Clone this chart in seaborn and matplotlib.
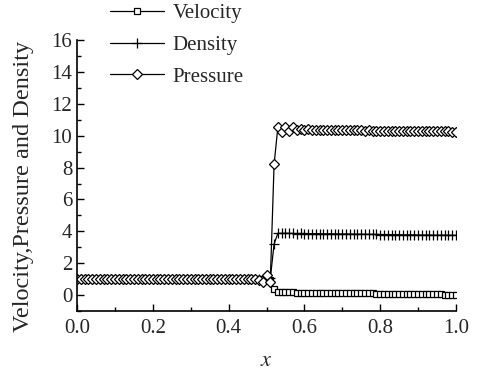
import numpy as np
import pandas as pd
import seaborn as sns
import matplotlib.pyplot as plt
from matplotlib.ticker import MultipleLocator

# grid points, step 0.01
x = [0.00, 0.01, 0.02, 0.03, 0.04, 0.05, 0.06, 0.07, 0.08, 0.09,
     0.10, 0.11, 0.12, 0.13, 0.14, 0.15, 0.16, 0.17, 0.18, 0.19,
     0.20, 0.21, 0.22, 0.23, 0.24, 0.25, 0.26, 0.27, 0.28, 0.29,
     0.30, 0.31, 0.32, 0.33, 0.34, 0.35, 0.36, 0.37, 0.38, 0.39,
     0.40, 0.41, 0.42, 0.43, 0.44, 0.45, 0.46, 0.47, 0.48, 0.49,
     0.50, 0.51, 0.52, 0.53, 0.54, 0.55, 0.56, 0.57, 0.58, 0.59,
     0.60, 0.61, 0.62, 0.63, 0.64, 0.65, 0.66, 0.67, 0.68, 0.69,
     0.70, 0.71, 0.72, 0.73, 0.74, 0.75, 0.76, 0.77, 0.78, 0.79,
     0.80, 0.81, 0.82, 0.83, 0.84, 0.85, 0.86, 0.87, 0.88, 0.89,
     0.90, 0.91, 0.92, 0.93, 0.94, 0.95, 0.96, 0.97, 0.98, 0.99,
     1.00]

velocity = [1.00, 1.00, 1.00, 1.00, 1.00, 1.00, 1.00, 1.00, 1.00, 1.00,
            1.00, 1.00, 1.00, 1.00, 1.00, 1.00, 1.00, 1.00, 1.00, 1.00,
            1.00, 1.00, 1.00, 1.00, 1.00, 1.00, 1.00, 1.00, 1.00, 1.00,
            1.00, 1.00, 1.00, 1.00, 1.00, 1.00, 1.00, 1.00, 1.00, 1.00,
            1.00, 1.00, 1.00, 1.00, 1.00, 1.00, 1.00, 1.00, 1.00, 1.00,
            1.00, 0.95, 0.35, 0.20, 0.18, 0.18, 0.17, 0.17, 0.16, 0.16,
            0.16, 0.15, 0.15, 0.15, 0.14, 0.14, 0.14, 0.13, 0.13, 0.13,
            0.12, 0.12, 0.12, 0.11, 0.11, 0.11, 0.10, 0.10, 0.10, 0.09,
            0.09, 0.09, 0.08, 0.08, 0.08, 0.07, 0.07, 0.07, 0.06, 0.06,
            0.06, 0.05, 0.05, 0.05, 0.04, 0.04, 0.04, 0.03, 0.03, 0.03,
            0.02]

density = [1.00, 1.00, 1.00, 1.00, 1.00, 1.00, 1.00, 1.00, 1.00, 1.00,
           1.00, 1.00, 1.00, 1.00, 1.00, 1.00, 1.00, 1.00, 1.00, 1.00,
           1.00, 1.00, 1.00, 1.00, 1.00, 1.00, 1.00, 1.00, 1.00, 1.00,
           1.00, 1.00, 1.00, 1.00, 1.00, 1.00, 1.00, 1.00, 1.00, 1.00,
           1.00, 1.00, 1.00, 1.00, 1.00, 1.00, 1.00, 1.00, 1.00, 1.00,
           1.00, 1.05, 3.20, 3.88, 3.87, 3.88, 3.87, 3.87, 3.86, 3.87,
           3.86, 3.86, 3.85, 3.86, 3.85, 3.85, 3.84, 3.85, 3.84, 3.84,
           3.83, 3.84, 3.83, 3.83, 3.82, 3.82, 3.82, 3.81, 3.81, 3.81,
           3.80, 3.80, 3.80, 3.79, 3.79, 3.79, 3.78, 3.78, 3.78, 3.78,
           3.77, 3.77, 3.77, 3.77, 3.76, 3.76, 3.76, 3.76, 3.76, 3.75,
           3.75]

pressure = [1.00, 1.00, 1.00, 1.00, 1.00, 1.00, 1.00, 1.00, 1.00, 1.00,
            1.00, 1.00, 1.00, 1.00, 1.00, 1.00, 1.00, 1.00, 1.00, 1.00,
            1.00, 1.00, 1.00, 1.00, 1.00, 1.00, 1.00, 1.00, 1.00, 1.00,
            1.00, 1.00, 1.00, 1.00, 1.00, 1.00, 1.00, 1.00, 1.00, 1.00,
            1.00, 1.00, 1.00, 1.00, 1.00, 1.00, 1.00, 0.98, 0.95, 0.80,
            1.25, 0.85, 8.20, 10.55, 10.25, 10.55, 10.30, 10.55, 10.35, 10.40,
            10.35, 10.40, 10.35, 10.38, 10.35, 10.38, 10.35, 10.36, 10.35, 10.36,
            10.35, 10.35, 10.34, 10.35, 10.34, 10.34, 10.33, 10.34, 10.33, 10.33,
            10.32, 10.33, 10.32, 10.32, 10.31, 10.32, 10.31, 10.31, 10.30, 10.30,
            10.30, 10.29, 10.29, 10.29, 10.28, 10.28, 10.28, 10.27, 10.27, 10.26,
            10.26]

series = {
    'Velocity': ('s', 4.5),
    'Density': ('+', 6.5),
    'Pressure': ('D', 5.5),
}

sns.set_style("ticks")
plt.rcParams['font.family'] = ['Liberation Serif', 'DejaVu Serif']
plt.rcParams['mathtext.fontset'] = 'stix'

fig = plt.figure(figsize=(4.85, 3.72), dpi=100)
ax = fig.add_axes([0.159, 0.164, 0.781, 0.728])

df = pd.DataFrame({'x': x, 'Velocity': velocity, 'Density': density, 'Pressure': pressure})
for name, (mk, ms) in series.items():
    sns.lineplot(data=df, x='x', y=name, ax=ax, color='black', linewidth=0.9,
                 marker=mk, markersize=ms, markerfacecolor='white',
                 markeredgecolor='black', markeredgewidth=0.9, label=name,
                 legend=False)

ax.set_xlim(0, 1.0)
ax.set_ylim(-1, 16)
ax.xaxis.set_major_locator(MultipleLocator(0.2))
ax.xaxis.set_minor_locator(MultipleLocator(0.1))
ax.yaxis.set_major_locator(MultipleLocator(2))
ax.yaxis.set_minor_locator(MultipleLocator(1))
ax.set_xticklabels([f'{v:.1f}' for v in ax.get_xticks()])
ax.tick_params(which='both', direction='in', labelsize=15, width=1.0, color='black')
ax.tick_params(axis='x', pad=6)
ax.tick_params(which='major', length=5)
ax.tick_params(which='minor', length=3)
for s in ['top', 'right']:
    ax.spines[s].set_visible(False)
for s in ['left', 'bottom']:
    ax.spines[s].set_color('black')
    ax.spines[s].set_linewidth(1.2)

ax.set_xlabel('$x$', fontsize=16, labelpad=10)
ax.set_ylabel('Velocity,Pressure and Density', fontsize=17.5)
ax.yaxis.set_label_coords(-0.115, 0.46)

handles, labels = ax.get_legend_handles_labels()
fig.legend(handles, labels, loc='upper left', bbox_to_anchor=(0.227, 0.99),
           frameon=False, fontsize=15, borderpad=0, borderaxespad=0,
           handlelength=2.6, handletextpad=0.4, labelspacing=0.58)

fig.savefig('out.png', dpi=100)
